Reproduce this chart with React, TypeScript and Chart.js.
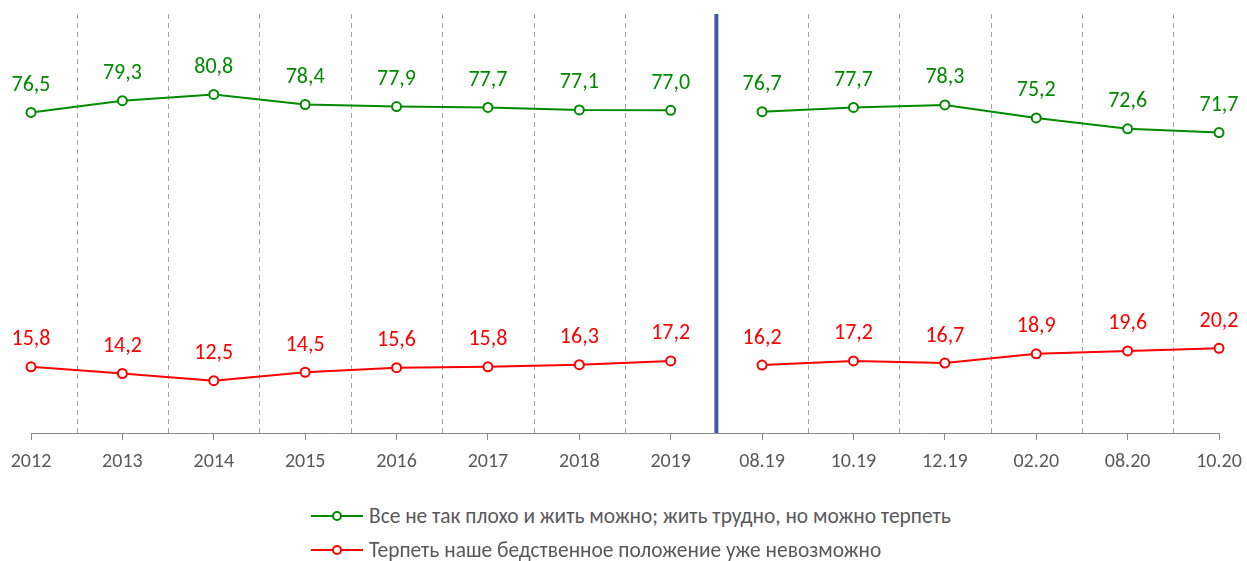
import React, { useEffect, useRef } from "react";
import { Chart, registerables } from "chart.js";

Chart.register(...registerables);

const categories = [
  "2012", "2013", "2014", "2015", "2016", "2017", "2018", "2019",
  "08.19", "10.19", "12.19", "02.20", "08.20", "10.20",
];
const seriesGreen = [76.5, 79.3, 80.8, 78.4, 77.9, 77.7, 77.1, 77.0, 76.7, 77.7, 78.3, 75.2, 72.6, 71.7];
const seriesRed = [15.8, 14.2, 12.5, 14.5, 15.6, 15.8, 16.3, 17.2, 16.2, 17.2, 16.7, 18.9, 19.6, 20.2];
const seriesNames = [
  "Все не так плохо и жить можно; жить трудно, но можно терпеть",
  "Терпеть наше бедственное положение уже невозможно",
];
const breakAfterIndex = 7;

const GREEN = "#008a00";
const RED = "#ff0000";
const BLUE = "#3a5ba8";
const FONT = "Carlito, 'Open Sans', sans-serif";

const overlayPlugin = {
  id: "overlay",
  beforeDatasetsDraw(chart: any) {
    const { ctx, chartArea, scales } = chart;
    const x = scales.x;
    ctx.save();
    for (let i = 0; i < categories.length - 1; i++) {
      const px = (x.getPixelForValue(i) + x.getPixelForValue(i + 1)) / 2;
      if (i === breakAfterIndex) {
        ctx.strokeStyle = BLUE;
        ctx.lineWidth = 4;
        ctx.setLineDash([]);
      } else {
        ctx.strokeStyle = "#a6a6a6";
        ctx.lineWidth = 1;
        ctx.setLineDash([5, 4]);
      }
      ctx.beginPath();
      const xx = i === breakAfterIndex ? px : Math.round(px) + 0.5;
      ctx.moveTo(xx, chartArea.top);
      ctx.lineTo(xx, chartArea.bottom);
      ctx.stroke();
    }
    ctx.restore();
  },
  afterDatasetsDraw(chart: any) {
    const { ctx } = chart;
    ctx.save();
    ctx.font = `22px ${FONT}`;
    ctx.textAlign = "center";
    ctx.textBaseline = "middle";
    chart.data.datasets.forEach((ds: any, di: number) => {
      const meta = chart.getDatasetMeta(di);
      ctx.fillStyle = ds.borderColor;
      meta.data.forEach((pt: any, i: number) => {
        const v = ds.data[i];
        ctx.fillText(v.toFixed(1).replace(".", ","), pt.x, pt.y - 27);
      });
    });
    ctx.restore();
  },
};

function LegendItem({ color, text }: { color: string; text: string }) {
  return (
    <div style={{ display: "flex", alignItems: "center", height: 34 }}>
      <svg width={52} height={12} style={{ marginRight: 6 }}>
        <line x1={0} y1={6} x2={52} y2={6} stroke={color} strokeWidth={2} />
        <circle cx={26} cy={6} r={4} fill="#fff" stroke={color} strokeWidth={2} />
      </svg>
      <span style={{ color: "#595959", fontSize: 21.4, fontFamily: FONT, whiteSpace: "nowrap" }}>{text}</span>
    </div>
  );
}

export default function App() {
  const ref = useRef<HTMLCanvasElement>(null);
  useEffect(() => {
    document.body.style.margin = "0";
    const gap = (color: string) => (c: any) => (c.p0DataIndex === breakAfterIndex ? "rgba(0,0,0,0)" : color);
    const chart = new Chart(ref.current!, {
      type: "line",
      data: {
        labels: categories,
        datasets: [
          {
            label: seriesNames[0],
            data: seriesGreen,
            borderColor: GREEN,
            backgroundColor: "#fff",
            borderWidth: 2,
            pointRadius: 4.5,
            pointBorderWidth: 2,
            pointBackgroundColor: "#fff",
            tension: 0,
            segment: { borderColor: gap(GREEN) },
          },
          {
            label: seriesNames[1],
            data: seriesRed,
            borderColor: RED,
            backgroundColor: "#fff",
            borderWidth: 2,
            pointRadius: 4.5,
            pointBorderWidth: 2,
            pointBackgroundColor: "#fff",
            tension: 0,
            segment: { borderColor: gap(RED) },
          },
        ],
      },
      options: {
        responsive: false,
        animation: false,
        layout: { padding: { left: 31, right: 28, top: 14, bottom: 0 } },
        plugins: { legend: { display: false }, tooltip: { enabled: false } },
        scales: {
          x: {
            offset: false,
            grid: { display: true, drawOnChartArea: false, drawTicks: true, tickLength: 7, color: "#8c8c8c" },
            border: { display: true, color: "#8c8c8c", width: 1 },
            ticks: { color: "#595959", font: { size: 20, family: FONT }, padding: 10, maxRotation: 0, autoSkip: false },
            afterFit: (axis: any) => {
              axis.height = 47;
              axis.paddingLeft = 0;
              axis.paddingRight = 0;
            },
          },
          y: { display: false, min: 0, max: 100 },
        },
      },
      plugins: [overlayPlugin],
    });
    return () => chart.destroy();
  }, []);

  return (
    <div style={{ position: "fixed", left: 0, top: 0, width: 1247, height: 561, background: "#fff" }}>
      <canvas ref={ref} width={1247} height={480} style={{ position: "absolute", left: 0, top: 0 }} />
      <div style={{ position: "absolute", left: 311, top: 499 }}>
        <LegendItem color={GREEN} text={seriesNames[0]} />
        <LegendItem color={RED} text={seriesNames[1]} />
      </div>
    </div>
  );
}
